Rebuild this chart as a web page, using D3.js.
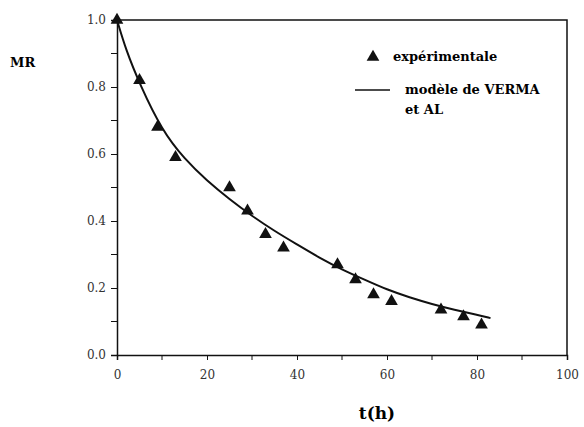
<!DOCTYPE html>
<html>
<head>
<meta charset="utf-8">
<script src="https://cdn.jsdelivr.net/npm/d3@7"></script>
<style>
  body { margin: 0; background: #fff; }
</style>
</head>
<body>
<div id="chart"></div>
<script>
// svg container
var width = 584
var height = 427
var serif = '"DejaVu Serif", serif'

// experimental points
var expT  = [0, 5, 9, 13, 25, 29, 33, 37, 49, 53, 57, 61, 72, 77, 81];
var expMR = [1.0, 0.82, 0.68, 0.59, 0.50, 0.43, 0.36, 0.32, 0.27, 0.225, 0.18, 0.16, 0.135, 0.115, 0.09];

// model curve
var modT  = [0, 2, 5, 10, 15, 20, 25, 30, 35, 40, 45, 50, 55, 60, 65, 70, 75, 80, 83];
var modMR = [1.0, 0.91, 0.81, 0.67, 0.585, 0.52, 0.465, 0.415, 0.37, 0.33, 0.29, 0.255, 0.225, 0.195, 0.172, 0.152, 0.135, 0.12, 0.11];

// ticks
var xTicks = [0, 20, 40, 60, 80, 100];
var xMinor = [10, 30, 50, 70, 90];
var yTicks = [0, 0.2, 0.4, 0.6, 0.8, 1.0];
var yMinor = [0.1, 0.3, 0.5, 0.7, 0.9];

var svg = d3.select('#chart').append('svg')
    .attr('width', width)
    .attr('height', height)
    .attr('font-family', serif);

// scales straight onto the page
var xScale = d3.scaleLinear().domain([0, 100]).range([117, 567]);
var yScale = d3.scaleLinear().domain([0, 1]).range([355, 20]);

// frame (top and right)
svg.append('path')
    .attr('d', `M${xScale(0)},${yScale(1)}H${xScale(100)}V${yScale(0)}`)
    .attr('fill', 'none')
    .attr('stroke', '#111')
    .attr('stroke-width', 1.5);

// x axis
var xAxis = d3.axisBottom(xScale)
    .tickValues(xTicks)
    .tickFormat(d3.format('d'))
    .tickSize(5)
    .tickPadding(10);
var gx = svg.append('g')
    .attr('transform', `translate(0, ${yScale(0)})`)
    .call(xAxis);
gx.selectAll('.minor').data(xMinor).enter().append('line')
    .attr('x1', d => xScale(d)).attr('x2', d => xScale(d))
    .attr('y1', 0).attr('y2', 5)
    .attr('stroke', '#111');

// y axis
var yAxis = d3.axisLeft(yScale)
    .tickValues(yTicks)
    .tickFormat(d3.format('.1f'))
    .tickSize(6)
    .tickPadding(5);
var gy = svg.append('g')
    .attr('transform', `translate(${xScale(0)}, 0)`)
    .call(yAxis);
gy.selectAll('.minor').data(yMinor).enter().append('line')
    .attr('y1', d => yScale(d)).attr('y2', d => yScale(d))
    .attr('x1', 0).attr('x2', -6)
    .attr('stroke', '#111');

[gx, gy].forEach(function (g) {
    g.attr('font-family', serif).attr('font-size', 12);
    g.select('.domain').attr('stroke', '#111').attr('stroke-width', 1.5);
    g.selectAll('.tick line').attr('stroke', '#111');
    g.selectAll('.tick text').attr('fill', '#333');
});

// model line
var line = d3.line()
    .x((d, i) => xScale(modT[i]))
    .y(d => yScale(d))
    .curve(d3.curveBasis);

svg.append('path')
    .datum(modMR)
    .attr('d', line)
    .attr('fill', 'none')
    .attr('stroke', '#111')
    .attr('stroke-width', 2);

// experimental triangles
var tri = d3.symbol().type(d3.symbolTriangle).size(70);
svg.selectAll('.pt')
    .data(expMR)
    .enter()
    .append('path')
    .attr('class', 'pt')
    .attr('d', tri)
    .attr('transform', (d, i) => `translate(${xScale(expT[i])}, ${yScale(d)})`)
    .attr('fill', '#111');

// axis titles
svg.append('text')
    .attr('x', 10)
    .attr('y', 67)
    .attr('font-size', 13)
    .attr('font-weight', 'bold')
    .text('MR');

svg.append('text')
    .attr('x', 377)
    .attr('y', 419)
    .attr('text-anchor', 'middle')
    .attr('font-size', 17)
    .attr('font-weight', 'bold')
    .text('t(h)');

// legend
svg.append('path')
    .attr('d', tri)
    .attr('transform', 'translate(373, 57)')
    .attr('fill', '#111');
svg.append('text')
    .attr('x', 393)
    .attr('y', 61)
    .attr('font-size', 13)
    .attr('font-weight', 'bold')
    .text('expérimentale');

svg.append('line')
    .attr('x1', 355).attr('x2', 390)
    .attr('y1', 90).attr('y2', 90)
    .attr('stroke', '#111')
    .attr('stroke-width', 1.5);
svg.append('text')
    .attr('x', 405)
    .attr('y', 94)
    .attr('font-size', 13)
    .attr('font-weight', 'bold')
    .text('modèle de VERMA');
svg.append('text')
    .attr('x', 405)
    .attr('y', 114)
    .attr('font-size', 13)
    .attr('font-weight', 'bold')
    .text('et AL');
</script>
</body>
</html>
